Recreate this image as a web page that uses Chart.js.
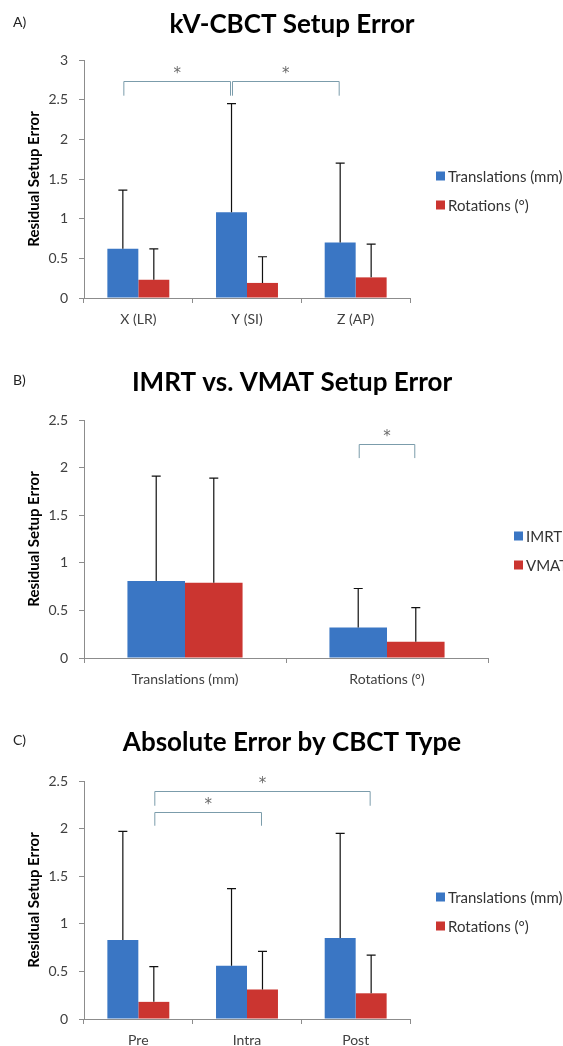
<!DOCTYPE html>
<html>
<head>
<meta charset="utf-8">
<script src="https://cdn.jsdelivr.net/npm/chart.js@4.4.0/dist/chart.umd.min.js"></script>
<style>
  body { margin: 0; background: #fff; }
  .panel { position: absolute; left: 0; width: 563px; }
</style>
</head>
<body>
<div class="panel" style="top:0"><canvas id="chartA" width="563" height="335"></canvas></div>
<div class="panel" style="top:335px"><canvas id="chartB" width="563" height="355"></canvas></div>
<div class="panel" style="top:690px"><canvas id="chartC" width="563" height="356"></canvas></div>
<script>
// A) kV-CBCT setup error
const axisLabelsA = ['X (LR)', 'Y (SI)', 'Z (AP)'];
const translationsA = [0.62, 1.08, 0.70];
const translationsErrA = [0.74, 1.37, 1.00];
const rotationsA = [0.23, 0.19, 0.26];
const rotationsErrA = [0.39, 0.33, 0.42];

// B) IMRT vs VMAT
const typeLabelsB = ['Translations (mm)', 'Rotations (°)'];
const imrtB = [0.81, 0.32];
const imrtErrB = [1.10, 0.41];
const vmatB = [0.79, 0.17];
const vmatErrB = [1.10, 0.36];

// C) by CBCT type
const cbctLabelsC = ['Pre', 'Intra', 'Post'];
const translationsC = [0.83, 0.56, 0.85];
const translationsErrC = [1.14, 0.81, 1.10];
const rotationsC = [0.18, 0.31, 0.27];
const rotationsErrC = [0.37, 0.40, 0.40];

// significance brackets: [category, dataset] to [category, dataset], bracket value, leg value
const sigA = [
    { from: [0, 0], to: [1, 0], top: 2.74, leg: 2.55 },
    { from: [1, 0], to: [2, 0], top: 2.74, leg: 2.55 }
];
const sigB = [
    { from: [1, 0], to: [1, 1], top: 2.25, leg: 2.10 }
];
const sigC = [
    { from: [0, 1], to: [2, 1], top: 2.39, leg: 2.24 },
    { from: [0, 1], to: [1, 1], top: 2.17, leg: 2.03 }
];

const BLUE = '#3a76c4';
const RED = '#cb3530';
const AXIS = '#8c8c8c';
const FONT = 'Lato, "Open Sans", sans-serif';

const decor = {
    id: 'decor',
    afterDatasetsDraw(chart) {
        const ctx = chart.ctx;
        const y = chart.scales.y;
        const o = chart.options.plugins.decor;

        // error bars (plus side only)
        ctx.save();
        ctx.strokeStyle = '#111';
        ctx.lineWidth = 1.2;
        chart.data.datasets.forEach((ds, i) => {
            chart.getDatasetMeta(i).data.forEach((bar, j) => {
                const top = y.getPixelForValue(ds.data[j] + ds.err[j]);
                ctx.beginPath();
                ctx.moveTo(bar.x, bar.y);
                ctx.lineTo(bar.x, top);
                ctx.moveTo(bar.x - 4.5, top);
                ctx.lineTo(bar.x + 4.5, top);
                ctx.stroke();
            });
        });
        ctx.restore();

        // brackets with stars
        ctx.save();
        ctx.strokeStyle = '#7b9cab';
        ctx.lineWidth = 1;
        ctx.fillStyle = '#6a6a6a';
        ctx.font = '15px "DejaVu Sans", sans-serif';
        ctx.textAlign = 'center';
        ctx.textBaseline = 'middle';
        o.brackets.forEach(b => {
            const x1 = chart.getDatasetMeta(b.from[1]).data[b.from[0]].x + 1;
            const x2 = chart.getDatasetMeta(b.to[1]).data[b.to[0]].x - 1;
            const yt = Math.round(y.getPixelForValue(b.top)) + 0.5;
            const yl = y.getPixelForValue(b.leg);
            ctx.beginPath();
            ctx.moveTo(x1, yl);
            ctx.lineTo(x1, yt);
            ctx.lineTo(x2, yt);
            ctx.lineTo(x2, yl);
            ctx.stroke();
            ctx.fillText('*', (x1 + x2) / 2, yt - 7);
        });
        ctx.restore();
    },
    afterDraw(chart) {
        const ctx = chart.ctx;
        const o = chart.options.plugins.decor;
        const area = chart.chartArea;

        ctx.save();
        ctx.fillStyle = '#000';
        ctx.textBaseline = 'middle';
        ctx.textAlign = 'center';
        ctx.font = 'bold 26px ' + FONT;
        ctx.fillText(o.title, 292, o.titleY);
        ctx.textAlign = 'left';
        ctx.font = '14px ' + FONT;
        ctx.fillStyle = '#222';
        ctx.fillText(o.tag, 13, o.titleY - 3);

        // legend
        const mid = (area.top + area.bottom) / 2;
        ctx.font = '15px ' + FONT;
        chart.data.datasets.forEach((ds, i) => {
            const cy = mid - 3 + i * 29;
            const lx = area.right + 26;
            ctx.fillStyle = ds.backgroundColor;
            ctx.fillRect(lx, cy - 4.5, 9, 9);
            ctx.fillStyle = '#333';
            ctx.fillText(ds.label, lx + 12, cy + 1);
        });
        ctx.restore();
    }
};

function makeChart(id, p) {
    return new Chart(document.getElementById(id), {
        type: 'bar',
        data: {
            labels: p.labels,
            datasets: [
                { label: p.names[0], data: p.values[0], err: p.errors[0], backgroundColor: BLUE },
                { label: p.names[1], data: p.values[1], err: p.errors[1], backgroundColor: RED }
            ]
        },
        options: {
            responsive: false,
            animation: false,
            events: [],
            datasets: { bar: { categoryPercentage: 0.57, barPercentage: 1.0, borderWidth: 0 } },
            layout: { padding: { left: 0, right: p.padRight, top: p.padTop, bottom: 0 } },
            scales: {
                x: {
                    ticks: { padding: 8, color: '#404040', font: { size: 14, family: FONT } },
                    grid: { drawOnChartArea: false, drawTicks: true, tickLength: 5, color: AXIS, offset: true },
                    border: { display: true, color: AXIS },
                    afterFit: s => { s.height = p.xHeight; }
                },
                y: {
                    min: 0,
                    max: p.yMax,
                    ticks: {
                        stepSize: 0.5,
                        padding: 11,
                        color: '#404040',
                        font: { size: 14, family: FONT },
                        callback: v => String(+v.toFixed(1))
                    },
                    grid: { drawOnChartArea: false, drawTicks: true, tickLength: 5, color: AXIS },
                    border: { display: true, color: AXIS },
                    title: {
                        display: true,
                        text: 'Residual Setup Error',
                        color: '#000',
                        font: { size: 15, weight: 'bold', family: FONT },
                        padding: { top: 25, bottom: 0 }
                    },
                    afterFit: s => { s.width = 84; }
                }
            },
            plugins: {
                legend: { display: false },
                tooltip: { enabled: false },
                decor: { title: p.title, tag: p.tag, titleY: p.titleY, brackets: p.brackets }
            }
        },
        plugins: [decor]
    });
}

makeChart('chartA', {
    labels: axisLabelsA,
    names: ['Translations (mm)', 'Rotations (°)'],
    values: [translationsA, rotationsA],
    errors: [translationsErrA, rotationsErrA],
    yMax: 3, padTop: 60, padRight: 153, xHeight: 37,
    title: 'kV-CBCT Setup Error', tag: 'A)', titleY: 25,
    brackets: sigA
});

makeChart('chartB', {
    labels: typeLabelsB,
    names: ['IMRT', 'VMAT'],
    values: [imrtB, vmatB],
    errors: [imrtErrB, vmatErrB],
    yMax: 2.5, padTop: 85, padRight: 75, xHeight: 32,
    title: 'IMRT vs. VMAT Setup Error', tag: 'B)', titleY: 48,
    brackets: sigB
});

makeChart('chartC', {
    labels: cbctLabelsC,
    names: ['Translations (mm)', 'Rotations (°)'],
    values: [translationsC, rotationsC],
    errors: [translationsErrC, rotationsErrC],
    yMax: 2.5, padTop: 91, padRight: 153, xHeight: 27,
    title: 'Absolute Error by CBCT Type', tag: 'C)', titleY: 53,
    brackets: sigC
});
</script>
</body>
</html>
